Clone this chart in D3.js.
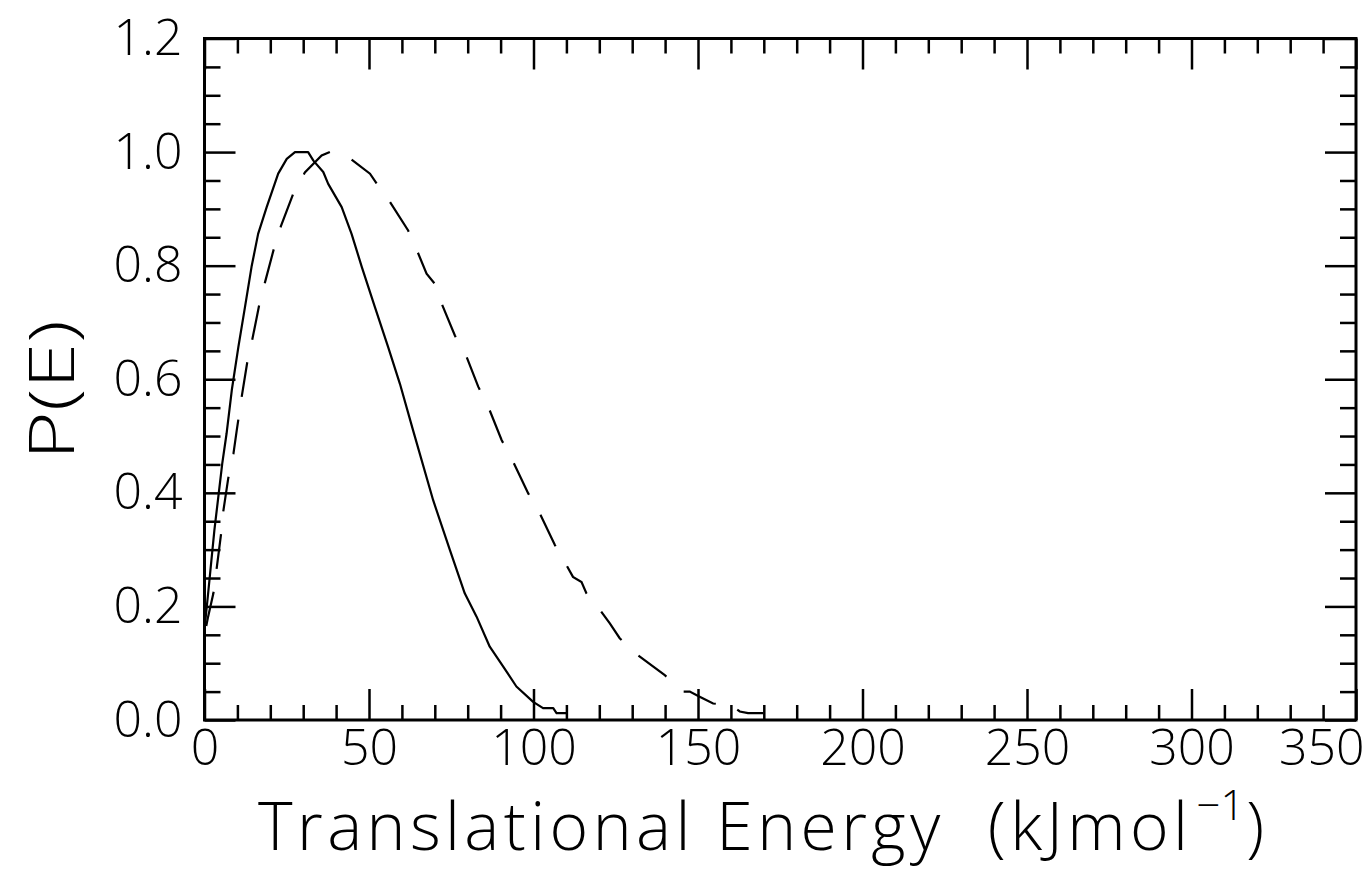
<!DOCTYPE html>
<html><head><meta charset="utf-8">
<script src="https://cdn.jsdelivr.net/npm/d3@7"></script>
<style>
html,body{margin:0;padding:0;background:#fff;}
svg{display:block;}
text{font-family:"Open Sans","DejaVu Sans",sans-serif;font-weight:300;fill:#000;}
</style></head>
<body>
<svg id="chart" width="1371" height="869"></svg>
<script>
// ---- data ----
const solidE = [0, 1.0, 3.0, 5.4, 6.7, 8.3, 10.3, 12.3, 14.3, 16.3, 18.9, 22.4, 25, 27.5, 29.5, 31.5, 33.1, 36.1, 37.6, 41.7, 44.7, 47.8, 51.8, 55.8, 59.4, 63.4, 69.5, 74.6, 79.1, 82.7, 86.7, 90.8, 94.8, 99.9, 102.9, 106, 107, 110];
const solidP = [0.16, 0.217, 0.334, 0.452, 0.504, 0.581, 0.657, 0.727, 0.798, 0.856, 0.903, 0.962, 0.988, 1.0, 1.0, 1.0, 0.985, 0.965, 0.944, 0.903, 0.856, 0.798, 0.727, 0.657, 0.592, 0.510, 0.387, 0.299, 0.223, 0.182, 0.129, 0.094, 0.059, 0.032, 0.021, 0.021, 0.012, 0.012];
const dashedE = [0, 1.1, 2.7, 3.7, 5.0, 5.7, 7.2, 8.8, 9.8, 11.3, 13.0, 14.6, 16.6, 18.4, 21.1, 23.2, 27, 30.5, 35.6, 38.1, 44.7, 50.3, 52.3, 56.4, 61.9, 65.0, 67.5, 70.0, 72.1, 76.1, 79.7, 83.2, 86.7, 90.3, 93.8, 98.4, 101.9, 106.5, 110, 112, 114.6, 116.1, 120.2, 123.2, 126.2, 131.8, 139.9, 145.5, 147.5, 150.5, 154.6, 160.2, 162.7, 165.2, 169.8];
const dashedP = [0.15, 0.182, 0.223, 0.267, 0.326, 0.367, 0.425, 0.469, 0.510, 0.569, 0.630, 0.672, 0.730, 0.771, 0.830, 0.869, 0.927, 0.964, 0.994, 1.0, 0.987, 0.962, 0.945, 0.912, 0.862, 0.821, 0.786, 0.768, 0.733, 0.677, 0.639, 0.587, 0.545, 0.493, 0.455, 0.399, 0.364, 0.308, 0.273, 0.252, 0.243, 0.223, 0.194, 0.170, 0.144, 0.114, 0.079, 0.050, 0.050, 0.041, 0.029, 0.026, 0.015, 0.012, 0.012];
const xMajorTicks = [0, 50, 100, 150, 200, 250, 300, 350];
const xTickLabels = ["0", "50", "100", "150", "200", "250", "300", "350"];
const yMajorTicks = [0, 0.2, 0.4, 0.6, 0.8, 1.0, 1.2];
const yTickLabels = ["0.0", "0.2", "0.4", "0.6", "0.8", "1.0", "1.2"];
const xLabel = "Translational Energy  (kJmol";
const xLabelSup = "\u22121";
const yLabel = "P(E)";

// ---- layout ----
const L = 204.5, R = 1356, T = 38.5, B = 720;
const svg = d3.select("#chart");
const x = d3.scaleLinear().domain([0, 350]).range([L, R]);
const y = d3.scaleLinear().domain([0, 1.2]).range([B, T]);

const xMinor = d3.range(0, 351, 10).filter(v => v % 50 !== 0);
const yMinor = d3.range(0, 25).map(i => +(i * 0.05).toFixed(2)).filter(v => Math.round(v * 100) % 20 !== 0);

function styleAxis(g, w) {
  g.select(".domain").remove();
  g.selectAll(".tick line").attr("stroke", "#000").attr("stroke-width", w);
}
// bottom
svg.append("g").attr("transform", `translate(0,${B})`)
  .call(d3.axisBottom(x).tickValues(xMinor).tickSize(-15).tickFormat(""))
  .call(g => styleAxis(g, 2.5));
svg.append("g").attr("transform", `translate(0,${B})`)
  .call(d3.axisBottom(x).tickValues(xMajorTicks).tickSize(-31).tickPadding(9)
    .tickFormat((d, i) => xTickLabels[i]))
  .call(g => {
    styleAxis(g, 2.5);
    g.selectAll("text").attr("font-size", 50).attr("font-family", null);
    // last label pulled inside the window, as in the reference
    g.selectAll(".tick").filter(d => d === 350).select("text")
      .attr("text-anchor", "end").attr("x", 8);
  });
// top
svg.append("g").attr("transform", `translate(0,${T})`)
  .call(d3.axisTop(x).tickValues(xMinor).tickSize(-15).tickFormat(""))
  .call(g => styleAxis(g, 2.5));
svg.append("g").attr("transform", `translate(0,${T})`)
  .call(d3.axisTop(x).tickValues(xMajorTicks).tickSize(-31).tickFormat(""))
  .call(g => styleAxis(g, 2.5));
// left
svg.append("g").attr("transform", `translate(${L},0)`)
  .call(d3.axisLeft(y).tickValues(yMinor).tickSize(-16).tickFormat(""))
  .call(g => styleAxis(g, 2.5));
svg.append("g").attr("transform", `translate(${L},0)`)
  .call(d3.axisLeft(y).tickValues(yMajorTicks).tickSize(-31).tickPadding(22)
    .tickFormat((d, i) => yTickLabels[i]))
  .call(g => { styleAxis(g, 2.5); g.selectAll("text").attr("font-size", 50).attr("font-family", null); });
// right
svg.append("g").attr("transform", `translate(${R},0)`)
  .call(d3.axisRight(y).tickValues(yMinor).tickSize(-16).tickFormat(""))
  .call(g => styleAxis(g, 2.5));
svg.append("g").attr("transform", `translate(${R},0)`)
  .call(d3.axisRight(y).tickValues(yMajorTicks).tickSize(-31).tickFormat(""))
  .call(g => styleAxis(g, 2.5));

// frame
svg.append("rect").attr("x", L).attr("y", T).attr("width", R - L).attr("height", B - T)
  .attr("fill", "none").attr("stroke", "#000").attr("stroke-width", 3);

// curves
const line = d3.line().x(d => x(d[0])).y(d => y(d[1]));
const solid = solidE.map((e, i) => [e, solidP[i]]);
const dashed = dashedE.map((e, i) => [e, dashedP[i]]);
svg.append("path").datum(solid).attr("d", line)
  .attr("fill", "none").attr("stroke", "#000").attr("stroke-width", 2.2).attr("stroke-linejoin", "round");

// align a dash end with the dashed peak
const peakIdx = dashedP.indexOf(d3.max(dashedP));
const tmp = svg.append("path").attr("d", line(dashed.slice(0, peakIdx + 1)));
const Lpk = tmp.node().getTotalLength();
tmp.remove();
const dashLen = 35, gapLen = 23, per = dashLen + gapLen;
const off = (((dashLen - Lpk) % per) + per) % per;
svg.append("path").datum(dashed).attr("d", line)
  .attr("fill", "none").attr("stroke", "#000").attr("stroke-width", 2.2)
  .attr("stroke-dasharray", `${dashLen},${gapLen}`).attr("stroke-dashoffset", off);

// axis titles
const xt = svg.append("text").attr("x", 258).attr("y", 850).attr("font-size", 66)
  .attr("xml:space", "preserve").style("white-space", "pre");
xt.append("tspan").text(xLabel).attr("textLength", 930).attr("lengthAdjust", "spacing");
xt.append("tspan").text(xLabelSup).attr("font-size", 42).attr("dy", -30).attr("dx", 4);
xt.append("tspan").text(")").attr("dy", 30).attr("dx", 2);

svg.append("text").attr("transform", `translate(74,390) rotate(-90)`)
  .attr("text-anchor", "middle").attr("font-size", 62)
  .attr("textLength", 140).attr("lengthAdjust", "spacingAndGlyphs").text(yLabel);
</script>
</body></html>
